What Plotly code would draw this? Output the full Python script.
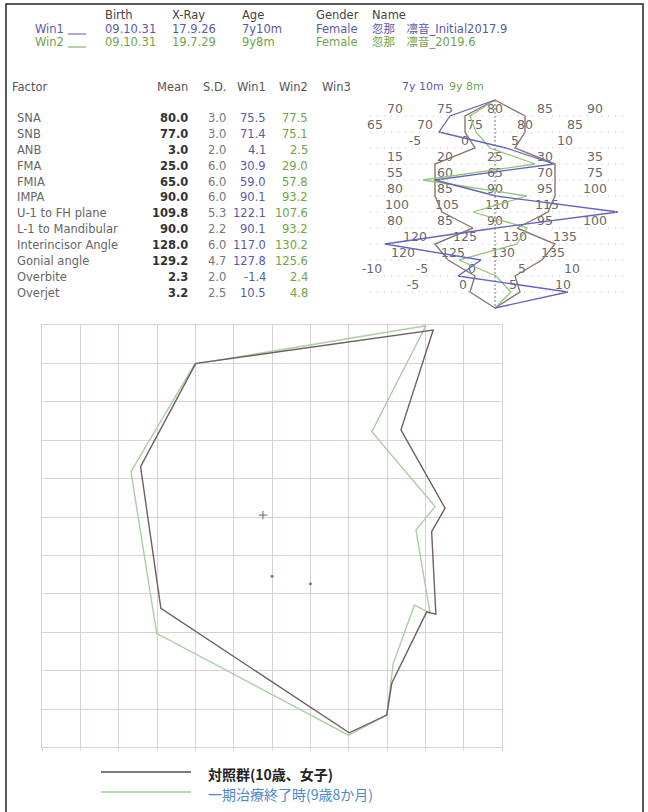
import plotly.graph_objects as go

W, H = 648, 812

# ---------------- data ----------------
factors = ["SNA", "SNB", "ANB", "FMA", "FMIA", "IMPA", "U-1 to FH plane",
           "L-1 to Mandibular", "Interincisor Angle", "Gonial angle",
           "Overbite", "Overjet"]
mean = [80.0, 77.0, 3.0, 25.0, 65.0, 90.0, 109.8, 90.0, 128.0, 129.2, 2.3, 3.2]
sd = [3.0, 3.0, 2.0, 6.0, 6.0, 6.0, 5.3, 2.2, 6.0, 4.7, 2.0, 2.5]
win1 = [75.5, 71.4, 4.1, 30.9, 59.0, 90.1, 122.1, 90.1, 117.0, 127.8, -1.4, 10.5]
win2 = [77.5, 75.1, 2.5, 29.0, 57.8, 93.2, 107.6, 93.2, 130.2, 125.6, 2.4, 4.8]
scale_labels = [
    [70, 75, 80, 85, 90],
    [65, 70, 75, 80, 85],
    [-5, 0, 5, 10],
    [15, 20, 25, 30, 35],
    [55, 60, 65, 70, 75],
    [80, 85, 90, 95, 100],
    [100, 105, 110, 115],
    [80, 85, 90, 95, 100],
    [120, 125, 130, 135],
    [120, 125, 130, 135],
    [-10, -5, 0, 5, 10],
    [-5, 0, 5, 10],
]

header_cols = ["Birth", "X-Ray", "Age", "Gender", "Name"]
win1_info = ["09.10.31", "17.9.26", "7y10m", "Female", "忽那　凛音_Initial2017.9"]
win2_info = ["09.10.31", "19.7.29", "9y8m", "Female", "忽那　凛音_2019.6"]

# superimposition polygons (grid units, y measured downward)
control_x = [4.01, 10.20, 9.36, 10.51, 10.16, 10.27, 10.03, 9.12, 8.99, 8.01, 3.10, 2.57, 4.01]
control_y = [1.00, 0.13, 2.73, 4.77, 5.38, 7.53, 7.47, 9.33, 10.16, 10.62, 7.38, 3.69, 1.00]
treated_x = [3.98, 10.01, 8.60, 10.25, 9.75, 10.12, 9.71, 9.16, 8.99, 7.99, 2.99, 2.32, 3.98]
treated_y = [1.02, 0.02, 2.78, 4.73, 5.34, 7.51, 7.29, 8.81, 10.16, 10.68, 8.03, 3.82, 1.02]
cross_pt = ([5.76], [4.95])
dot_pts = ([6.0, 7.0], [6.54, 6.74])

legend_labels = ["対照群(10歳、女子)", "一期治療終了時(9歳8か月)"]

# ---------------- styles ----------------
FONT = "DejaVu Sans"
BLUE = "#5a5aa8"
GREEN = "#6fa448"
GRID = "#ddd0d0"
DARK_POLY = "#6e6060"
GREEN_POLY = "#a8cfa2"


def px(x):
    return x / W


def py(y):
    return 1 - y / H


fig = go.Figure()
ann = []
shapes = []


def txt(x, y, s, color="#444", size=11.5, anchor="left", bold=False, family=FONT):
    ann.append(dict(x=px(x), y=py(y), xref="paper", yref="paper", text=("<b>%s</b>" % s) if bold else s,
                    showarrow=False, xanchor=anchor, yanchor="middle",
                    font=dict(family=family, size=size, color=color)))


# ---------------- header ----------------
hx = [103, 170, 240, 314, 370]
for x, s in zip(hx, header_cols):
    txt(x, 15, s, "#444")
txt(33, 29, "Win1", BLUE)
txt(33, 42, "Win2", GREEN)
shapes.append(dict(type="line", xref="paper", yref="paper", x0=px(68), x1=px(86), y0=py(34), y1=py(34),
                   line=dict(color=BLUE, width=1)))
shapes.append(dict(type="line", xref="paper", yref="paper", x0=px(68), x1=px(86), y0=py(47), y1=py(47),
                   line=dict(color=GREEN, width=1)))
for x, s in zip(hx, win1_info):
    txt(x, 29, s, BLUE, family=FONT + ", Noto Sans CJK JP")
for x, s in zip(hx, win2_info):
    txt(x, 42, s, GREEN, family=FONT + ", Noto Sans CJK JP")

# ---------------- table ----------------
txt(10, 87, "Factor", "#555")
txt(190, 87, "Mean", "#555", anchor="right")
txt(228, 87, "S.D.", "#555", anchor="right")
txt(268, 87, "Win1", "#555", anchor="right")
txt(310, 87, "Win2", "#555", anchor="right")
txt(353, 87, "Win3", "#555", anchor="right")
txt(400, 87, "7y 10m", BLUE, size=11)
txt(447, 87, "9y 8m", GREEN, size=11)
for i, f in enumerate(factors):
    y = 118 + 15.9 * i
    txt(15, y, f, "#666")
    txt(190, y, "%.1f" % mean[i], "#333", anchor="right", bold=True)
    txt(228, y, "%.1f" % sd[i], "#777", anchor="right")
    txt(268, y, "%.1f" % win1[i], BLUE, anchor="right")
    txt(310, y, "%.1f" % win2[i], GREEN, anchor="right")

# ---------------- mini wiggle chart (x2/y2) ----------------
rows = list(range(len(factors)))
for i in rows:
    shapes.append(dict(type="line", xref="x2", yref="y2", x0=-12.5, x1=13.0, y0=i, y1=i,
                       line=dict(color="#bdbdbd", width=1.2, dash="1px,6px")))
shapes.append(dict(type="line", xref="x2", yref="y2", x0=0, x1=0, y0=-1, y1=12,
                   line=dict(color="#777", width=1, dash="2px,2px")))

lab_x, lab_y, lab_t = [], [], []
for i, labs in enumerate(scale_labels):
    for v in labs:
        lab_x.append(v - mean[i])
        lab_y.append(i - 0.38)
        lab_t.append(str(v))
fig.add_trace(go.Scatter(x=lab_x, y=lab_y, text=lab_t, mode="text", xaxis="x2", yaxis="y2",
                         cliponaxis=False,
                         textfont=dict(family=FONT, size=12.5, color="#6a6a6a"), hoverinfo="skip"))

norm_x = [0] + sd + [0] + [-s for s in reversed(sd)] + [0]
norm_y = [-1] + rows + [12] + list(reversed(rows)) + [-1]
fig.add_trace(go.Scatter(x=norm_x, y=norm_y, mode="lines", xaxis="x2", yaxis="y2",
                         line=dict(color="#8a7870", width=1.4), hoverinfo="skip"))
fig.add_trace(go.Scatter(x=[0] + [v - m for v, m in zip(win2, mean)] + [0], y=[-1] + rows + [12],
                         mode="lines", xaxis="x2", yaxis="y2",
                         line=dict(color="#93c474", width=1.3), hoverinfo="skip"))
fig.add_trace(go.Scatter(x=[0] + [v - m for v, m in zip(win1, mean)] + [0], y=[-1] + rows + [12],
                         mode="lines", xaxis="x2", yaxis="y2",
                         line=dict(color="#6464c0", width=1.3), hoverinfo="skip"))

# ---------------- superimposition (x/y) ----------------
fig.add_trace(go.Scatter(x=treated_x, y=treated_y, mode="lines", line=dict(color=GREEN_POLY, width=1.4),
                         hoverinfo="skip"))
fig.add_trace(go.Scatter(x=control_x, y=control_y, mode="lines", line=dict(color=DARK_POLY, width=1.4),
                         hoverinfo="skip"))
fig.add_trace(go.Scatter(x=cross_pt[0], y=cross_pt[1], mode="markers",
                         marker=dict(symbol="cross-thin", size=6, line=dict(color="#666", width=1)),
                         hoverinfo="skip"))
fig.add_trace(go.Scatter(x=dot_pts[0], y=dot_pts[1], mode="markers",
                         marker=dict(symbol="circle", size=3, color="#777"), hoverinfo="skip"))

# ---------------- legend ----------------
shapes.append(dict(type="line", xref="paper", yref="paper", x0=px(101), x1=px(191), y0=py(772), y1=py(772),
                   line=dict(color="#5a5050", width=1.3)))
shapes.append(dict(type="line", xref="paper", yref="paper", x0=px(101), x1=px(191), y0=py(792), y1=py(792),
                   line=dict(color="#9fcf98", width=1.3)))
txt(206, 774, legend_labels[0], "#222", size=14, bold=True, family="Noto Sans CJK JP")
txt(206, 794, legend_labels[1], "#4d88cc", size=14, family="Noto Sans CJK JP")

# ---------------- page frame ----------------
shapes.append(dict(type="rect", xref="paper", yref="paper", x0=px(6), x1=px(643), y0=py(830), y1=py(4),
                   line=dict(color="#222", width=1.5)))

fig.update_layout(
    width=W, height=H, margin=dict(l=0, r=0, t=0, b=0),
    paper_bgcolor="white", plot_bgcolor="white", showlegend=False,
    annotations=ann, shapes=shapes,
    xaxis=dict(domain=[px(42), px(502.2)], range=[0, 12], dtick=1, tick0=0, showgrid=True,
               gridcolor=GRID, gridwidth=1, zeroline=False, showticklabels=False,
               ticks="outside", ticklen=3, tickcolor=GRID, showline=True, linecolor=GRID,
               mirror=True, fixedrange=True),
    yaxis=dict(domain=[py(747.4), py(325)], range=[11, 0], dtick=1, tick0=0, showgrid=True,
               gridcolor=GRID, gridwidth=1, zeroline=False, showticklabels=False,
               showline=True, linecolor=GRID, mirror=True, fixedrange=True),
    xaxis2=dict(domain=[px(365), px(630)], range=[-13, 13.5], visible=False, anchor="y2"),
    yaxis2=dict(domain=[py(316), py(92)], range=[12.5, -1.5], visible=False, anchor="x2"),
)

fig.write_html("out.html")
